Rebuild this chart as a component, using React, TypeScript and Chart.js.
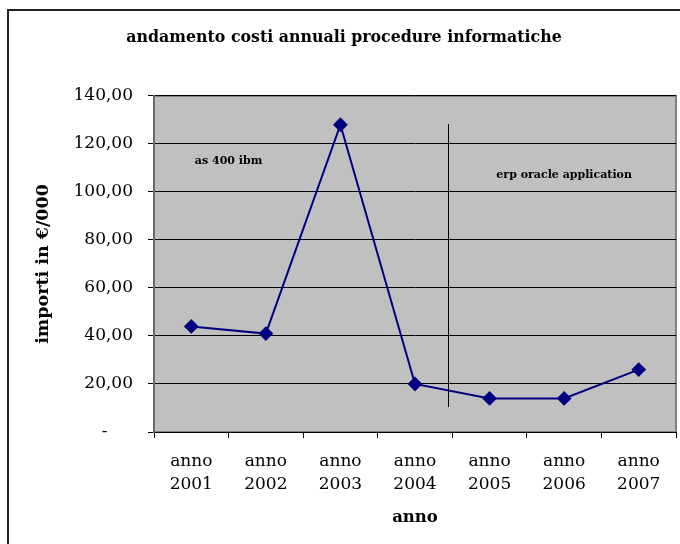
import React, { useEffect, useRef } from "react";
import { Chart, registerables } from "chart.js";

Chart.register(...registerables);

const categories = [
  ["anno", "2001"],
  ["anno", "2002"],
  ["anno", "2003"],
  ["anno", "2004"],
  ["anno", "2005"],
  ["anno", "2006"],
  ["anno", "2007"],
];
const costs = [44, 41, 128, 20, 14, 14, 26];
const yTicks = [0, 20, 40, 60, 80, 100, 120, 140];
const titleText = "andamento costi annuali procedure informatiche";
const yTitle = "importi in €/000";
const xTitle = "anno";
// divider between the two systems (category position, value from, value to)
const dividerAt = 3.44;
const dividerFrom = 128.3;
const dividerTo = 10.4;
// annotation labels: [text, category position, value]
const annotations: [string, number, number][] = [
  ["as 400 ibm", 0.5, 112.9],
  ["erp oracle application", 5.0, 107.1],
];

const SERIF = "'DejaVu Serif', serif";

const fmt = (v: number) =>
  v === 0 ? "-\u2002\u2002\u2002" : v.toFixed(2).replace(".", ",");

const decorPlugin = {
  id: "decor",
  beforeDraw(chart: any) {
    const { ctx, chartArea } = chart;
    const { left, top, right, bottom } = chartArea;
    ctx.save();
    ctx.fillStyle = "#ffffff";
    ctx.fillRect(0, 0, chart.width, chart.height);
    // outer frame
    ctx.strokeStyle = "#222222";
    ctx.lineWidth = 2;
    ctx.beginPath();
    ctx.moveTo(8, chart.height + 2);
    ctx.lineTo(8, 10);
    ctx.lineTo(chart.width + 2, 10);
    ctx.stroke();
    // plot background
    ctx.fillStyle = "#C0C0C0";
    ctx.fillRect(left, top, right - left, bottom - top);
    ctx.strokeStyle = "#808080";
    ctx.lineWidth = 2;
    ctx.strokeRect(left, top, right - left, bottom - top);
    ctx.restore();
  },
  afterDatasetsDraw(chart: any) {
    const { ctx } = chart;
    const xs = chart.scales.x;
    const ys = chart.scales.y;
    ctx.save();
    // divider
    const p0 = xs.getPixelForValue(3);
    const p1 = xs.getPixelForValue(4);
    const dx = p0 + (p1 - p0) * (dividerAt - 3);
    ctx.strokeStyle = "#000000";
    ctx.lineWidth = 1;
    ctx.beginPath();
    ctx.moveTo(Math.round(dx) + 0.5, ys.getPixelForValue(dividerFrom));
    ctx.lineTo(Math.round(dx) + 0.5, ys.getPixelForValue(dividerTo));
    ctx.stroke();
    // annotations
    ctx.fillStyle = "#000000";
    ctx.font = "bold 11px " + SERIF;
    ctx.textAlign = "center";
    ctx.textBaseline = "middle";
    for (const [t, cx, v] of annotations) {
      const base = Math.floor(cx);
      const a = xs.getPixelForValue(base);
      const b = xs.getPixelForValue(base + 1);
      const px = a + (b - a) * (cx - base);
      ctx.fillText(t, px, ys.getPixelForValue(v));
    }
    ctx.restore();
  },
};

export default function App() {
  const ref = useRef<HTMLCanvasElement>(null);
  useEffect(() => {
    if (!ref.current) return;
    const chart = new Chart(ref.current, {
      type: "line",
      data: {
        labels: categories as any,
        datasets: [
          {
            data: costs,
            borderColor: "#000080",
            backgroundColor: "#000080",
            borderWidth: 2,
            pointStyle: "rectRot",
            pointRadius: 6,
            pointHoverRadius: 6,
            tension: 0,
          },
        ],
      },
      options: {
        responsive: false,
        animation: false,
        layout: { autoPadding: false, padding: { left: 12, right: 4, top: 0, bottom: 0 } },
        plugins: {
          legend: { display: false },
          tooltip: { enabled: false },
          title: {
            display: true,
            text: titleText,
            color: "#000000",
            font: { family: SERIF, size: 15.8, weight: "bold", lineHeight: 1.2 },
            padding: { top: 28, bottom: 49 },
          },
        },
        scales: {
          x: {
            offset: true,
            grid: {
              offset: true,
              drawOnChartArea: false,
              drawTicks: true,
              tickLength: 6,
              color: "#000000",
            },
            border: { color: "#000000", width: 1 },
            ticks: {
              color: "#000000",
              font: { family: SERIF, size: 17, lineHeight: 1.36 },
              padding: 12,
              maxRotation: 0,
              autoSkip: false,
            },
            title: {
              display: true,
              text: xTitle,
              color: "#000000",
              font: { family: SERIF, size: 16.5, weight: "bold", lineHeight: 1.2 },
              padding: { top: 16, bottom: 16 },
            },
            afterFit: (s: any) => {
              s.height = 112;
              s.paddingLeft = 0;
              s.paddingRight = 0;
            },
          },
          y: {
            min: 0,
            max: 140,
            afterBuildTicks: (s: any) => {
              s.ticks = yTicks.map((v) => ({ value: v }));
            },
            grid: {
              color: "#000000",
              lineWidth: 1,
              drawTicks: true,
              tickLength: 6,
              tickColor: "#000000",
            },
            border: { color: "#666666", width: 2 },
            ticks: {
              color: "#000000",
              font: { family: SERIF, size: 17 },
              padding: 15,
              callback: (v: any) => fmt(Number(v)),
            },
            title: {
              display: true,
              text: yTitle,
              color: "#000000",
              font: { family: SERIF, size: 17.5, weight: "bold", lineHeight: 1.2 },
              padding: { top: 20.5, bottom: 20.5 },
            },
            afterFit: (s: any) => {
              s.width = 142;
            },
          },
        },
      },
      plugins: [decorPlugin],
    } as any);
    return () => chart.destroy();
  }, []);
  return (
    <div style={{ position: "absolute", left: 0, top: 0, width: 680, height: 544 }}>
      <canvas ref={ref} width={680} height={544} />
    </div>
  );
}
